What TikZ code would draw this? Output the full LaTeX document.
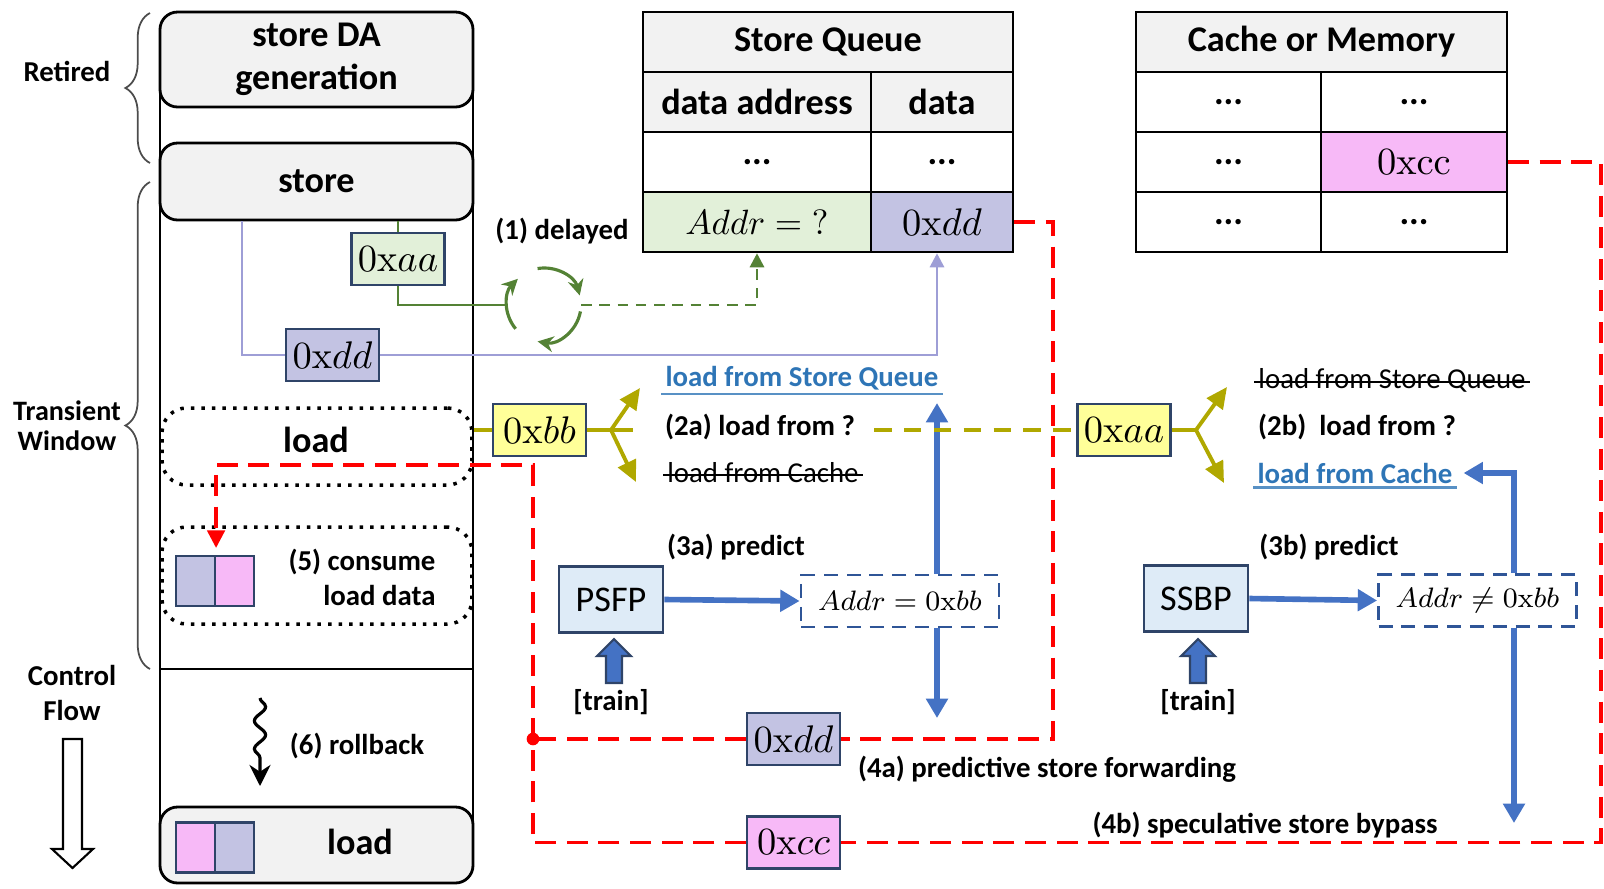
\documentclass[tikz,border=0pt]{standalone}
\usepackage[no-math]{fontspec}
\setmainfont{Carlito}
\usetikzlibrary{positioning,arrows.meta,decorations.pathreplacing,decorations.pathmorphing}

\definecolor{hdgray}{HTML}{F2F2F2}
\definecolor{addrgreen}{HTML}{E2F0D9}
\definecolor{datapurple}{HTML}{C3C3E3}
\definecolor{mempink}{HTML}{F7B9F7}
\definecolor{valyellow}{HTML}{FFFF99}
\definecolor{predblue}{HTML}{DEEBF7}
\definecolor{boxnavy}{HTML}{2F4468}
\definecolor{dashnavy}{HTML}{2F5597}
\definecolor{arrblue}{HTML}{4472C4}
\definecolor{txtblue}{HTML}{2E75B6}
\definecolor{lgreen}{HTML}{548235}
\definecolor{lpurple}{HTML}{9E9ED6}
\definecolor{fwdolive}{HTML}{B0A800}

\newcommand{\bigsz}{\fontsize{10.3}{12.4}\selectfont}
\newcommand{\smsz}{\fontsize{8.2}{10}\selectfont}
% block arrow pointing up, centred on x = #1
\newcommand{\trainup}[1]{%
  \draw[draw=boxnavy, fill=arrblue, line width=0.6pt]
    (#1-0.08,-6.83) -- (#1+0.08,-6.83) -- (#1+0.08,-6.56) -- (#1+0.17,-6.56)
    -- (#1,-6.39) -- (#1-0.17,-6.56) -- (#1-0.08,-6.56) -- cycle;}

\tikzset{
  stage/.style={draw, line width=0.8pt, rounded corners=5pt, fill=hdgray,
    minimum width=3.13cm, inner sep=0pt, font=\bigsz\bfseries, align=center},
  slot/.style={draw, line width=1pt, dotted, rounded corners=7pt,
    minimum width=3.10cm, inner sep=0pt},
  cell/.style={draw, line width=0.7pt, minimum height=0.6cm, inner sep=0pt,
    font=\bigsz\bfseries},
  val/.style={draw=boxnavy, line width=0.6pt, minimum width=0.93cm,
    minimum height=0.52cm, inner sep=0pt, font=\fontsize{11.3}{13}\selectfont},
  sq/.style={draw=boxnavy, line width=0.6pt, minimum width=0.39cm,
    minimum height=0.50cm, inner sep=0pt},
  lbl/.style={font=\smsz\bfseries, inner sep=1pt},
  blbl/.style={font=\smsz\bfseries, inner sep=1pt, text=txtblue},
  pred/.style={draw=boxnavy, line width=0.8pt, fill=predblue, minimum width=1.04cm,
    minimum height=0.66cm, inner sep=0pt, font=\bigsz},
  guess/.style={draw=dashnavy, line width=0.8pt, dash pattern=on 4pt off 2.5pt,
    minimum width=1.98cm, minimum height=0.52cm, inner sep=0pt,
    font=\fontsize{8.1}{10}\selectfont},
  rline/.style={red, line width=0.9pt, dash pattern=on 6pt off 3pt},
  bline/.style={arrblue, line width=1.6pt, -{Triangle[length=5.5pt,width=6pt]}},
  yline/.style={fwdolive, line width=1.1pt},
  yarr/.style={yline, -{Triangle[length=6pt,width=5.5pt]}},
  gline/.style={lgreen, line width=0.8pt},
  garc/.style={lgreen, line width=0.9pt, -{Stealth[length=4.5pt,width=4.5pt]}},
  pline/.style={lpurple, line width=0.8pt}
}

\begin{document}
\begin{tikzpicture}
  \useasboundingbox (0,0) rectangle (16.04,-8.88);

  % pipeline column
  \draw[line width=0.8pt] (1.60,-0.40) -- (1.60,-8.60) (4.73,-0.40) -- (4.73,-8.60);
  \draw[line width=0.8pt] (1.60,-6.69) -- (4.73,-6.69);
  \node[stage, minimum height=0.95cm] (sda) at (3.165,-0.595) {store DA\\generation};
  \node[stage, minimum height=0.77cm] (st) at (3.165,-1.815) {store};
  \node[slot, minimum height=0.77cm] (ld) at (3.17,-4.465) {};
  \node[font=\bigsz\bfseries] (ldt) at (3.16,-4.40) {load};
  \node[slot, minimum height=0.97cm] (cons) at (3.17,-5.755) {};
  \node[sq, fill=datapurple] (c1) at (1.955,-5.81) {};
  \node[sq, fill=mempink] (c2) at (2.345,-5.81) {};
  \node[lbl, align=right, font=\fontsize{8.2}{10}\selectfont\bfseries] (tcons) at (3.62,-5.77) {(5) consume\\load data};
  \node[stage, minimum height=0.76cm] (ldb) at (3.165,-8.45) {};
  \node[sq, fill=mempink] (r1) at (1.955,-8.475) {};
  \node[sq, fill=datapurple] (r2) at (2.345,-8.475) {};
  \node[font=\bigsz\bfseries] (ldbt) at (3.60,-8.42) {load};
  \node[lbl] (trb) at (3.57,-7.46) {(6) rollback};
  \coordinate (rb1) at (2.60,-6.98);
  \coordinate (rb2) at (2.60,-7.86);
  \draw[line width=0.9pt, decorate,
    decoration={snake, amplitude=1.6pt, segment length=8pt, post length=6pt},
    -{Stealth[length=6pt,width=6pt]}] (rb1) -- (rb2);

  % left labels
  \draw[decorate, decoration={brace, amplitude=7pt}, black!70, line width=0.5pt]
    (1.50,-1.63) -- (1.50,-0.13);
  \draw[decorate, decoration={brace, amplitude=7pt}, black!70, line width=0.5pt]
    (1.50,-6.69) -- (1.50,-1.82);
  \node[lbl] (tret) at (0.67,-0.71) {Retired};
  \node[lbl, align=center, font=\fontsize{8}{8.6}\selectfont\bfseries] (ttw) at (0.67,-4.26) {Transient\\Window};
  \node[lbl, align=center] (tcf) at (0.72,-6.93) {Control\\Flow};
  \draw[line width=0.6pt, fill=white] (0.63,-7.39) -- (0.82,-7.39) -- (0.82,-8.49)
    -- (0.93,-8.49) -- (0.725,-8.68) -- (0.52,-8.49) -- (0.63,-8.49) -- cycle;

  % store queue
  \node[cell, fill=hdgray, minimum width=3.70cm] (sqh) at (8.28,-0.42) {Store Queue};
  \node[cell, fill=hdgray, minimum width=2.28cm] (sqa) at (7.57,-1.02) {data address};
  \node[cell, fill=hdgray, minimum width=1.42cm] (sqd) at (9.42,-1.02) {data};
  \node[cell, minimum width=2.28cm] (sqa1) at (7.57,-1.62) {...};
  \node[cell, minimum width=1.42cm] (sqd1) at (9.42,-1.62) {...};
  \node[cell, fill=addrgreen, minimum width=2.28cm, font=\fontsize{9.6}{11}\selectfont] (sqA) at (7.57,-2.22) {$Addr = \mathord{?}$};
  \node[cell, fill=datapurple, minimum width=1.42cm, font=\fontsize{11}{12}\selectfont] (sqV) at (9.42,-2.22) {$0\mathrm{x}dd$};

  % cache or memory
  \node[cell, fill=hdgray, minimum width=3.71cm] (mh) at (13.215,-0.42) {Cache or Memory};
  \foreach \cx/\cy/\nm in {12.285/-1.02/a1, 14.14/-1.02/b1, 12.285/-1.62/a2,
                           12.285/-2.22/a3, 14.14/-2.22/b3} {
    \node[cell, minimum width=1.855cm] (m\nm) at (\cx,\cy) {...};
  }
  \node[cell, fill=mempink, minimum width=1.855cm, font=\fontsize{10.5}{12}\selectfont] (mcc) at (14.14,-1.62) {$0\mathrm{xcc}$};

  % (1) delayed address
  \node[val, fill=addrgreen] (vaa) at (3.98,-2.59) {$0\mathrm{x}aa$};
  \node[val, fill=datapurple] (vdd) at (3.325,-3.55) {$0\mathrm{x}dd$};
  \node[lbl] (q1) at (5.62,-2.31) {(1) delayed};
  \coordinate (dly) at (5.44,-3.05);
  \coordinate (pdrop) at (2.42,0);
  \coordinate (colx) at (9.37,0);
  \draw[gline] (st.south -| vaa.north) -- (vaa.north);
  \draw[gline] (vaa.south) |- ([xshift=-0.37cm]dly);
  \draw[garc] ([shift={(100:0.37)}]dly) arc[start angle=100, end angle=15, radius=0.37];
  \draw[garc] ([shift={(-10:0.37)}]dly) arc[start angle=-10, end angle=-100, radius=0.37];
  \draw[garc] ([shift={(220:0.37)}]dly) arc[start angle=220, end angle=135, radius=0.37];
  \draw[gline, dash pattern=on 3pt off 2.2pt, -{Triangle[length=4pt,width=4pt]}]
    ([xshift=0.37cm]dly) -| (sqA.south);
  \draw[pline] (st.south -| pdrop) |- (vdd.west);
  \draw[pline, -{Triangle[length=4pt,width=4pt]}] (vdd.east) -| (colx |- sqV.south);

  % (2a) / (3a) / (4a)
  \node[val, fill=valyellow] (vbb) at (5.395,-4.30) {$0\mathrm{x}bb$};
  \coordinate (fkA) at (6.11,-4.30);
  \draw[yline] (vbb.west -| ld.east) -- (vbb.west);
  \draw[yline] (vbb.east) -- (6.33,-4.30);
  \draw[yarr] (fkA) -- (6.40,-3.88);
  \draw[yarr] (fkA) -- (6.36,-4.82);
  \node[blbl] (lsq) at (8.02,-3.78) {load from Store Queue};
  \draw[txtblue!80, line width=0.6pt] (lsq.south west) -- (lsq.south east);
  \node[lbl] (q2a) at (7.60,-4.27) {(2a) load from ?};
  \node[lbl, font=\smsz] (lc) at (7.63,-4.73) {load from Cache};
  \draw[line width=0.5pt] ([yshift=-0.6pt]lc.west) -- ([yshift=-0.6pt]lc.east);
  \node[lbl] (q3a) at (7.36,-5.47) {(3a) predict};
  \node[pred] (prA) at (6.11,-5.995) {PSFP};
  \node[guess] (gA) at (9.00,-6.01) {$Addr = 0\mathrm{x}bb$};
  \trainup{6.14}
  \node[lbl] (trA) at (6.11,-7.02) {[train]};
  \coordinate (upA) at (9.37,-4.03);
  \coordinate (dnA) at (9.37,-7.18);
  \draw[bline] (prA.east) -- (gA.west);
  \draw[bline] (gA.north -| upA) -- (upA);
  \draw[bline] (gA.south -| dnA) -- (dnA);
  \node[lbl] (q4a) at (10.47,-7.69) {(4a) predictive store forwarding};

  % (2b) / (3b) / (4b)
  \node[val, fill=valyellow] (vaa2) at (11.24,-4.30) {$0\mathrm{x}aa$};
  \coordinate (dashA) at (8.74,-4.30);
  \coordinate (fkB) at (11.96,-4.30);
  \draw[yline, dash pattern=on 5pt off 3.5pt] (dashA) -- (vaa2.west);
  \draw[yline] (vaa2.east) -- (fkB);
  \draw[yarr] (fkB) -- (12.27,-3.87);
  \draw[yarr] (fkB) -- (12.24,-4.83);
  \node[lbl, font=\smsz] (lsq2) at (13.92,-3.80) {load from Store Queue};
  \draw[line width=0.5pt] ([yshift=-0.6pt]lsq2.west) -- ([yshift=-0.6pt]lsq2.east);
  \node[lbl] (q2b) at (13.57,-4.27) {(2b)\ \ load from ?};
  \node[blbl] (lc2) at (13.55,-4.73) {load from Cache};
  \draw[txtblue!80, line width=0.6pt] (lc2.south west) -- (lc2.south east);
  \node[lbl] (q3b) at (13.29,-5.47) {(3b) predict};
  \node[pred] (prB) at (11.96,-5.985) {SSBP};
  \node[guess] (gB) at (14.775,-6.005) {$Addr \neq 0\mathrm{x}bb$};
  \trainup{11.98}
  \node[lbl] (trB) at (11.98,-7.02) {[train]};
  \coordinate (colb) at (15.14,0);
  \coordinate (dnB) at (15.14,-8.23);
  \draw[bline] (prB.east) -- (gB.west);
  \draw[bline] (gB.north -| colb) |- ([xshift=2pt]lc2.east);
  \draw[bline] (gB.south -| dnB) -- (dnB);
  \node[lbl] (q4b) at (12.65,-8.25) {(4b) speculative store bypass};

  % data returned to the load
  \node[val, fill=datapurple] (vdd2) at (7.935,-7.39) {$0\mathrm{x}dd$};
  \node[val, fill=mempink] (vcc2) at (7.935,-8.425) {$0\mathrm{x}cc$};
  \coordinate (rjoin) at (5.33,-7.39);
  \coordinate (rtop) at (5.33,-4.65);
  \coordinate (rdrop) at (c1.north east |- rtop);
  \draw[rline] (sqV.east) -| (10.53,-7.39) -- (vdd2.east);
  \draw[rline] (vdd2.west) -- (rjoin);
  \draw[rline] (mcc.east) -| (16.01,-8.425) -- (vcc2.east);
  \draw[rline, -{Triangle[length=5pt,width=5pt]}] (vcc2.west) -| (rtop) -- (rdrop)
    -- ([yshift=2pt]c1.north east);
  \fill[red] (rjoin) circle (1.8pt);
\end{tikzpicture}
\end{document}
